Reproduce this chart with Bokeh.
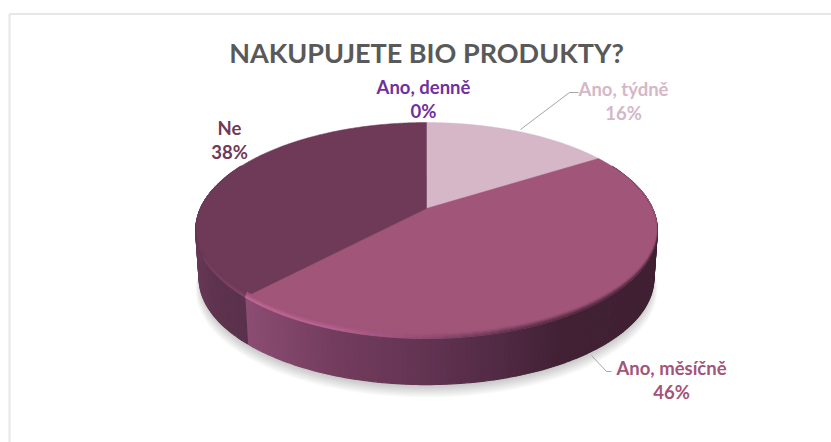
import numpy as np
from bokeh.plotting import figure
from bokeh.models import Range1d
from bokeh.core.properties import value
from bokeh.embed import file_html
from bokeh.resources import INLINE

title = "NAKUPUJETE BIO PRODUKTY?"
categories = ["Ano, týdně", "Ano, měsíčně", "Ne", "Ano, denně"]
shares = [16, 46, 38, 0]
shown = ["16%", "46%", "38%", "0%"]

face_colors = {"Ano, týdně": "#d5b7c8", "Ano, měsíčně": "#a15579", "Ne": "#6e3a57", "Ano, denně": "#7030a0"}
label_pos = {"Ano, týdně": (623, 88, 112), "Ano, měsíčně": (671, 367, 391), "Ne": (229, 127, 151), "Ano, denně": (423, 86, 110)}

W, H = 831, 442
p = figure(width=W, height=H, x_range=Range1d(0, W), y_range=Range1d(H, 0),
           output_backend="svg", toolbar_location=None, min_border=0,
           background_fill_color="white", border_fill_color="white", outline_line_color=None)
p.xaxis.visible = False
p.yaxis.visible = False
p.grid.visible = False

# perspective projection of the pie disc
CX, AY, A, C, B = 426.0, 208.0, 226.0, 103.5, 0.204


def proj(theta, scale=1.0, dy=0.0):
    X, Y = np.sin(theta), np.cos(theta)
    w = 1 + B * Y
    return CX + scale * A * X / w, AY + dy + scale * C * (-Y) / w


def hex2rgb(h):
    return np.array([int(h[i:i + 2], 16) for i in (1, 3, 5)], float)


def mix(a, b, t):
    c = hex2rgb(a) * (1 - t) + hex2rgb(b) * t
    return "#%02x%02x%02x" % tuple(int(round(v)) for v in c)


def ramp(x, stops):
    xs = [s[0] for s in stops]
    t = np.interp(x, xs, range(len(xs)))
    i = min(int(t), len(xs) - 2)
    return mix(stops[i][1], stops[i + 1][1], t - i)


SIDE = {"Ano, měsíčně": [(245, "#8c4d73"), (330, "#743d5e"), (420, "#643453"), (500, "#512a44"), (560, "#422134"), (660, "#402033")],
        "Ne": [(190, "#693a58"), (215, "#5d334e"), (250, "#5a314c")],
        "Ano, týdně": [(590, "#402033"), (660, "#402033")]}
RIM = {"Ano, měsíčně": [(245, "#c86fa0"), (330, "#bd6799"), (420, "#8f4c73"), (500, "#5c2f4c"), (560, "#452334"), (660, "#402033")],
       "Ne": [(190, "#4f2a42"), (205, "#7c4364"), (250, "#8a4a70")],
       "Ano, týdně": [(590, "#6e4058"), (660, "#402033")]}

# slice angle spans, clockwise from 12 o'clock
edges = np.concatenate([[0], np.cumsum(shares)]) / np.sum(shares) * 2 * np.pi
spans = {c: (edges[i], edges[i + 1]) for i, c in enumerate(categories) if shares[i] > 0}

# soft shadow
tt = np.linspace(0, 2 * np.pi, 180)
for k in range(10):
    sx_, sy_ = proj(tt, scale=0.975 + 0.0028 * k, dy=50 + 1.0 * k)
    p.patch(sx_, sy_, fill_color="#000000", fill_alpha=0.022, line_color=None)

# side wall
xs, ys, cols = [], [], []
for c, (t0, t1) in spans.items():
    n = max(2, int((t1 - t0) / np.radians(1.0)))
    th = np.linspace(t0, t1, n + 1)
    for a, b in zip(th[:-1], th[1:]):
        if np.cos((a + b) / 2) > 0.45:
            continue
        xa, ya = proj(a)
        xb, yb = proj(b)
        xc, yc = proj(b, 0.985, 48)
        xd, yd = proj(a, 0.985, 48)
        xs.append([xa, xb, xc, xd])
        ys.append([ya, yb, yc, yd])
        cols.append(ramp((xa + xb) / 2, SIDE[c]))
p.patches(xs, ys, fill_color=cols, line_color=cols, line_width=1.2)

# flat faces
for c, (t0, t1) in spans.items():
    th = np.linspace(t0, t1, 200)
    fx, fy = proj(th)
    p.patch(np.r_[CX, fx], np.r_[AY, fy], fill_color=face_colors[c], line_color=face_colors[c], line_width=0.5)

# soft rim on the front edge, fading into each face
BAND, STEPS = 7.0, 7
xs, ys, cols = [], [], []
for c, (t0, t1) in spans.items():
    th = np.linspace(t0, t1, max(2, int((t1 - t0) / np.radians(2))) + 1)
    for k in range(STEPS):
        u0, u1 = k / STEPS, (k + 1) / STEPS
        for a, b in zip(th[:-1], th[1:]):
            m = (a + b) / 2
            fall = max(0.0, -np.cos(m) + 0.25) / 1.25
            if fall <= 0:
                continue
            xa, ya = proj(a)
            xb, yb = proj(b)
            ia = BAND * fall
            xs.append([xa - (xa - CX) / 231 * ia * u0 * 0.4, xb - (xb - CX) / 231 * ia * u0 * 0.4,
                       xb - (xb - CX) / 231 * ia * u1 * 0.4, xa - (xa - CX) / 231 * ia * u1 * 0.4])
            ys.append([ya - ia * u0, yb - ia * u0, yb - ia * u1, ya - ia * u1])
            col = mix(ramp((xa + xb) / 2, RIM[c]), face_colors[c], min(1.0, (k + 0.5) / STEPS * 1.25))
            cols.append(col)
p.patches(xs, ys, fill_color=cols, line_color=cols, line_width=0.4)

# chart frame
p.line([9, 9], [13.5, H], line_color="#e6e6e6", line_width=2)
p.line([9, W], [13.5, 13.5], line_color="#e6e6e6", line_width=2)

# leader lines
p.line([520, 569, 578], [129, 92, 92], line_color="#a6a6a6", line_width=1)
p.line([591, 606, 611], [355, 371, 371], line_color="#a6a6a6", line_width=1)

# texts
p.text([426], [52], text=[title], text_font=value("Lato"), text_font_style="bold", text_font_size="27px",
       text_color="#595959", text_align="center", text_baseline="middle")
for c, s in zip(categories, shown):
    x, y1, y2 = label_pos[c]
    p.text([x, x], [y1, y2], text=[c, s], text_font=value("Lato"), text_font_style="bold", text_font_size="18.5px",
           text_color=face_colors[c], text_align="center", text_baseline="middle")

open("out.html", "w").write(file_html(p, INLINE))
